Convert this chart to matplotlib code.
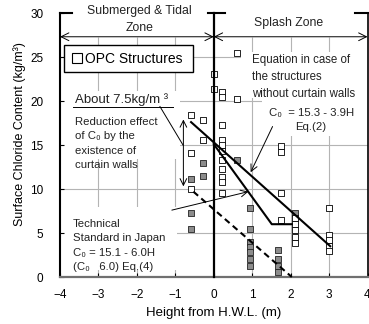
import matplotlib
matplotlib.use("Agg")
import matplotlib.pyplot as plt
from matplotlib.patches import Rectangle
from matplotlib.lines import Line2D

plt.rcParams['font.family'] = ['Liberation Sans', 'DejaVu Sans']

# open squares: OPC structures without curtain walls
open_x = [-0.59, -0.59, -0.59, -0.29, -0.29, 0.0, 0.0,
          0.21, 0.21, 0.21, 0.21, 0.21, 0.21, 0.21, 0.21, 0.21, 0.21, 0.21,
          0.6, 0.6, 1.74, 1.74, 1.74, 1.74,
          2.11, 2.11, 2.11, 2.11, 2.11, 3.0, 3.0, 3.0, 3.0, 3.0]
open_y = [18.4, 14.1, 10.0, 17.8, 15.6, 23.1, 21.4,
          21.0, 20.5, 17.3, 15.6, 15.0, 14.3, 13.3, 12.3, 11.4, 10.8, 9.5,
          25.4, 20.2, 14.9, 14.2, 9.6, 6.5,
          6.7, 6.0, 5.3, 4.6, 3.9, 7.8, 4.8, 4.2, 3.5, 3.0]

# gray squares: with curtain walls
gray_x = [-0.59, -0.59, -0.59, -0.29, -0.29, 0.6,
          0.94, 0.94, 0.94, 0.94, 0.94, 0.94, 0.94,
          1.67, 1.67, 1.67, 1.67, 2.11]
gray_y = [11.1, 7.3, 5.4, 12.9, 11.5, 13.3,
          7.8, 5.5, 4.0, 3.4, 2.8, 2.0, 1.2,
          3.1, 2.1, 1.2, 0.6, 7.3]

# regression / standard lines
eq2_x = [-0.59, 3.03]
eq2_y = [17.6, 3.5]
eq4_x = [0.0, 1.51, 2.03]
eq4_y = [15.1, 6.0, 6.0]
reduced_x = [-0.53, 2.03]
reduced_y = [9.7, 0.0]

fig = plt.figure(figsize=(3.69, 3.24), dpi=100)
ax = fig.add_axes([60 / 369, 47 / 324, 307.5 / 369, 264 / 324])
ax.set_xlim(-4, 4)
ax.set_ylim(0, 30)

# grid (only below the zone arrows)
ax.vlines([-3, -2, -1, 1, 2, 3], 0, 27.3, color='#b4b4b4', lw=0.8, zorder=0.5)
ax.hlines([5, 10, 15, 20, 25], -4, 4, color='#b4b4b4', lw=0.8, zorder=0.5)

# white areas behind the text blocks
for (x0, y0, x1, y1) in [(-4, 13.4, -0.88, 21.1), (-4, 0.8, -0.95, 7.95),
                         (0.72, 20.3, 4, 25.6), (1.26, 16.0, 4, 20.3)]:
    ax.add_patch(Rectangle((x0, y0), x1 - x0, y1 - y0, fc='white', ec='none', zorder=1))

# data
ax.scatter(gray_x, gray_y, marker='s', s=24, facecolor='#8c8c8c', edgecolor='#222222',
           linewidths=0.6, zorder=3)
ax.scatter(open_x, open_y, marker='s', s=24, facecolor='white', edgecolor='black',
           linewidths=0.6, zorder=3)

ax.plot(eq2_x, eq2_y, color='black', lw=1.5, zorder=4)
ax.plot(eq4_x, eq4_y, color='black', lw=1.5, zorder=4)
ax.plot(reduced_x, reduced_y, color='black', lw=1.5, ls=(0, (3, 2)), zorder=4, clip_on=False)

# frame pieces
ax.spines['top'].set_visible(False)
ax.spines['left'].set_linewidth(1.5)
ax.spines['right'].set_linewidth(1.2)
ax.spines['bottom'].set_color('#707070')
ax.spines['bottom'].set_linewidth(1.6)
ax.plot([0.0, 0.0], [0, 30], color='black', lw=1.6, zorder=4, clip_on=False)
ax.plot([-4, -3.69], [30, 30], color='black', lw=1.5, clip_on=False)
ax.plot([-0.15, 0.29], [30, 30], color='black', lw=1.5, clip_on=False)
ax.plot([3.68, 4], [30, 30], color='black', lw=1.5, clip_on=False)

# zone arrows
for a, b in [(-4, 0), (0, 4)]:
    ax.annotate('', xy=(a, 27.3), xytext=(b, 27.3),
                arrowprops=dict(arrowstyle='<->', lw=0.7, color='black',
                                shrinkA=0, shrinkB=0, mutation_scale=14))
ax.text(-1.94, 29.26, 'Submerged & Tidal\nZone', ha='center', va='center',
        fontsize=8.8, linespacing=1.6, color='#222222', clip_on=False)
ax.text(1.95, 28.9, 'Splash Zone', ha='center', va='center',
        fontsize=8.8, color='#222222')

# legend
ax.add_patch(Rectangle((4 / 307.5, 0.7765), 128.7 / 307.5, 0.1023, transform=ax.transAxes,
                       fc='white', ec='black', lw=1.0, zorder=5))
handle = Line2D([], [], marker='s', ms=6.5, mfc='white', mec='black', mew=0.8, ls='none')
ax.legend([handle], ['OPC Structures'], loc='center left',
          bbox_to_anchor=(0.0185, 0.7765 + 0.0511), frameon=False, borderpad=0,
          handlelength=0.7, handletextpad=0.2, fontsize=10).set_zorder(6)

# reduction effect
ax.text(-3.61, 19.77, 'About 7.5kg/m ³', fontsize=9.5, color='#222222', va='baseline', zorder=5)
ax.plot([-3.66, -1.06], [19.375, 19.375], color='black', lw=0.7, zorder=5)
ax.plot([-1.40, -0.80], [19.375, 15.0], color='black', lw=0.7, zorder=5)
ax.text(-3.61, 12.39, 'Reduction effect\nof C₀ by the\nexistence of\ncurtain walls',
        fontsize=8.2, color='#222222', va='baseline', linespacing=1.53, zorder=5)
ax.annotate('', xy=(-0.79, 10.3), xytext=(-0.79, 17.9),
            arrowprops=dict(arrowstyle='<->', lw=0.7, color='black',
                            shrinkA=0, shrinkB=0, mutation_scale=12), zorder=5)

# equation (2)
ax.text(1.0, 20.45, 'Equation in case of\nthe structures\nwithout curtain walls',
        fontsize=8.3, color='#222222', va='baseline', linespacing=1.57, zorder=5)
ax.text(1.44, 18.3, 'C₀  = 15.3 - 3.9H', fontsize=8.2, color='#222222', va='baseline', zorder=5)
ax.text(2.11, 16.7, 'Eq.(2)', fontsize=8.2, color='#222222', va='baseline', zorder=5)
ax.annotate('', xy=(0.96, 11.9), xytext=(1.53, 17.1),
            arrowprops=dict(arrowstyle='->', lw=0.7, color='black',
                            shrinkA=0, shrinkB=0, mutation_scale=12), zorder=5)

# technical standard
ax.text(-3.66, 0.8, 'Technical\nStandard in Japan\nC₀ = 15.1 - 6.0H\n(C₀   6.0) Eq.(4)',
        fontsize=8.2, color='#222222', va='baseline', linespacing=1.53, zorder=5)
ax.annotate('', xy=(0.90, 9.7), xytext=(-1.09, 7.6),
            arrowprops=dict(arrowstyle='->', lw=0.7, color='black',
                            shrinkA=0, shrinkB=0, mutation_scale=12), zorder=5)

# axes labels and ticks
ax.set_xticks(range(-4, 5))
ax.set_yticks(range(0, 31, 5))
ax.tick_params(axis='both', direction='in', length=3, width=0.8, labelsize=8.5)
ax.tick_params(axis='y', pad=12)
ax.tick_params(axis='x', pad=9)
ax.set_xlabel('Height from H.W.L. (m)', fontsize=9.5, labelpad=4)
ax.set_ylabel('Surface Chloride Content (kg/m³)', fontsize=9, labelpad=4)
ax.yaxis.set_label_coords(-0.11, 0.54)

fig.savefig('out.png', dpi=100)
